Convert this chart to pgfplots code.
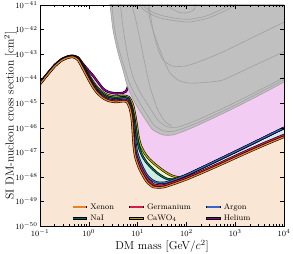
\documentclass[border=0pt]{standalone}
\usepackage{pgfplots}
\usepackage{pgfplotstable}
\pgfplotsset{compat=1.18}

\definecolor{xecol}{RGB}{232,130,40}
\definecolor{gecol}{RGB}{214,28,74}
\definecolor{arcol}{RGB}{58,100,200}
\definecolor{naicol}{RGB}{0,110,96}
\definecolor{cacol}{RGB}{180,170,0}
\definecolor{hecol}{RGB}{150,0,150}
\definecolor{xefill}{RGB}{250,230,212}
\definecolor{gefill}{RGB}{246,214,218}
\definecolor{arfill}{RGB}{214,234,246}
\definecolor{naifill}{RGB}{206,236,230}
\definecolor{cafill}{RGB}{248,245,205}
\definecolor{hefill}{RGB}{242,204,242}
\definecolor{greyfill}{RGB}{192,192,192}
\definecolor{greyline}{RGB}{160,160,160}

% log10(mass/GeV)  log10(sigma/cm^2)
\pgfplotstableread{
x y
-1.00 -44.22
-0.85 -43.85
-0.70 -43.50
-0.55 -43.25
-0.42 -43.14
-0.32 -43.12
-0.22 -43.24
-0.12 -43.60
0.00 -44.05
0.09 -44.36
0.19 -44.62
0.30 -44.80
0.40 -44.90
0.55 -44.95
0.70 -44.92
0.78 -44.95
0.84 -45.20
0.88 -45.60
0.90 -46.10
0.92 -46.70
0.95 -47.15
1.00 -47.48
1.05 -47.72
1.12 -47.98
1.19 -48.20
1.32 -48.41
1.52 -48.42
1.72 -48.30
2.00 -48.10
2.30 -47.85
2.70 -47.50
3.20 -47.05
3.60 -46.70
4.00 -46.37
}\tXe

\pgfplotstableread{
x y
-1.00 -44.21
-0.85 -43.84
-0.70 -43.49
-0.55 -43.24
-0.42 -43.13
-0.32 -43.11
-0.22 -43.22
-0.12 -43.56
0.00 -44.00
0.09 -44.31
0.19 -44.57
0.30 -44.75
0.40 -44.85
0.55 -44.90
0.70 -44.87
0.79 -44.90
0.855 -45.20
0.895 -45.60
0.915 -46.10
0.935 -46.70
0.965 -47.10
1.02 -47.42
1.08 -47.66
1.15 -47.92
1.22 -48.12
1.34 -48.32
1.52 -48.35
1.72 -48.23
2.00 -48.03
2.30 -47.78
2.70 -47.43
3.20 -46.97
3.60 -46.62
4.00 -46.29
}\tGe

\pgfplotstableread{
x y
-1.00 -44.20
-0.85 -43.83
-0.70 -43.48
-0.55 -43.23
-0.42 -43.12
-0.32 -43.10
-0.22 -43.20
-0.12 -43.52
0.00 -43.95
0.09 -44.26
0.19 -44.52
0.30 -44.70
0.40 -44.80
0.55 -44.85
0.70 -44.82
0.80 -44.85
0.87 -45.20
0.91 -45.60
0.935 -46.10
0.955 -46.60
0.985 -46.98
1.04 -47.32
1.10 -47.60
1.18 -47.90
1.26 -48.08
1.38 -48.22
1.55 -48.24
1.75 -48.12
2.00 -47.92
2.30 -47.64
2.70 -47.26
3.20 -46.78
3.60 -46.39
4.00 -46.00
}\tAr

\pgfplotstableread{
x y
-1.00 -44.19
-0.85 -43.82
-0.70 -43.47
-0.55 -43.22
-0.42 -43.11
-0.32 -43.09
-0.22 -43.18
-0.12 -43.48
0.00 -43.90
0.09 -44.20
0.19 -44.46
0.30 -44.64
0.40 -44.74
0.55 -44.79
0.70 -44.76
0.81 -44.80
0.88 -45.15
0.93 -45.60
0.96 -46.00
0.99 -46.40
1.03 -46.80
1.10 -47.15
1.20 -47.45
1.40 -47.84
1.60 -48.08
1.80 -48.10
2.00 -47.93
2.30 -47.65
2.70 -47.27
3.20 -46.79
3.60 -46.40
4.00 -46.01
}\tNaI

\pgfplotstableread{
x y
-1.00 -44.18
-0.85 -43.81
-0.70 -43.46
-0.55 -43.21
-0.42 -43.10
-0.32 -43.08
-0.22 -43.16
-0.12 -43.44
0.00 -43.85
0.09 -44.14
0.19 -44.40
0.30 -44.58
0.40 -44.68
0.55 -44.73
0.70 -44.70
0.82 -44.75
0.90 -45.05
0.95 -45.50
0.99 -46.00
1.02 -46.40
1.07 -46.75
1.15 -47.05
1.25 -47.30
1.40 -47.56
1.55 -47.78
1.70 -47.95
1.85 -48.02
2.00 -47.93
2.30 -47.65
2.70 -47.27
3.20 -46.79
3.60 -46.40
4.00 -46.01
}\tCa

\pgfplotstableread{
x y
-1.00 -44.16
-0.85 -43.80
-0.70 -43.45
-0.55 -43.20
-0.42 -43.09
-0.32 -43.07
-0.22 -43.14
-0.12 -43.40
0.00 -43.68
0.09 -43.88
0.19 -44.15
0.30 -44.42
0.40 -44.54
0.55 -44.60
0.70 -44.58
0.76 -44.52
0.80 -44.35
0.85 -44.05
0.92 -43.70
1.00 -43.50
1.50 -44.00
2.00 -44.20
3.00 -43.50
4.00 -42.80
}\tHe

% exclusion envelope and individual limits
\pgfplotstableread{
x y
0.400 -40.80
0.434 -41.00
0.496 -42.02
0.598 -42.95
0.701 -43.65
0.783 -44.26
0.885 -44.75
1.008 -45.19
1.193 -45.76
1.316 -46.09
1.520 -46.29
1.725 -46.29
2.010 -46.09
2.340 -45.80
2.893 -45.28
3.508 -44.66
4.000 -44.14
}\tB

\pgfplotstableread{
x y
0.46 -40.80
0.53 -42.00
0.63 -42.90
0.73 -43.55
0.82 -44.10
0.92 -44.55
1.04 -44.98
1.22 -45.55
1.34 -45.90
1.52 -46.12
1.725 -46.15
2.01 -45.97
2.34 -45.70
2.893 -45.18
3.508 -44.56
4.00 -44.04
}\tBb

\pgfplotstableread{
x y
0.639 -40.80
0.700 -41.90
0.803 -43.12
0.906 -43.93
1.050 -44.55
1.254 -45.20
1.420 -45.70
1.600 -45.95
1.800 -45.98
2.010 -45.85
2.340 -45.58
2.893 -45.07
3.508 -44.46
4.000 -43.95
}\tBc

\pgfplotstableread{
x y
0.85 -40.80
0.95 -41.50
1.05 -42.42
1.15 -43.40
1.25 -44.30
1.40 -45.20
1.55 -45.72
1.70 -45.93
}\tR

\pgfplotstableread{
x y
1.22 -40.80
1.316 -42.02
1.42 -42.80
1.52 -43.24
1.70 -43.48
1.90 -43.50
2.074 -43.44
2.40 -43.20
2.75 -42.91
3.35 -42.33
4.00 -41.70
}\tP

\pgfplotstableread{
x y
1.20 -40.80
1.254 -41.61
1.36 -42.30
1.459 -42.83
1.56 -43.35
1.664 -43.77
1.85 -44.08
2.074 -44.18
2.40 -44.15
2.75 -44.05
3.35 -43.50
4.00 -42.90
}\tQ

\pgfplotstableread{
x y
1.00 -40.80
1.10 -41.15
1.25 -41.35
1.46 -41.53
1.80 -41.65
2.07 -41.69
2.42 -41.55
2.83 -41.20
3.10 -40.85
}\tT

\pgfplotstableread{
x y
1.05 -40.80
1.15 -41.10
1.30 -41.28
1.50 -41.43
1.80 -41.55
2.07 -41.58
2.42 -41.44
2.80 -41.10
3.05 -40.80
}\tTb

\pgfplotstableread{
x y
1.55 -40.85
1.68 -41.12
1.85 -41.30
2.02 -41.32
2.16 -41.18
2.18 -40.98
2.05 -40.84
}\tL

\begin{document}
\begin{tikzpicture}
\begin{axis}[
  scale only axis,
  width=244pt, height=221pt,
  xmin=-1, xmax=4, ymin=-50, ymax=-41,
  xtick={-1,0,1,2,3,4},
  xticklabels={$10^{-1}$,$10^{0}$,$10^{1}$,$10^{2}$,$10^{3}$,$10^{4}$},
  ytick={-50,-49,-48,-47,-46,-45,-44,-43,-42,-41},
  yticklabels={$10^{-50}$,$10^{-49}$,$10^{-48}$,$10^{-47}$,$10^{-46}$,$10^{-45}$,$10^{-44}$,$10^{-43}$,$10^{-42}$,$10^{-41}$},
  minor xtick={-0.69897,-0.52288,-0.39794,-0.30103,-0.22185,-0.15490,-0.09691,-0.04576,
    0.30103,0.47712,0.60206,0.69897,0.77815,0.84510,0.90309,0.95424,
    1.30103,1.47712,1.60206,1.69897,1.77815,1.84510,1.90309,1.95424,
    2.30103,2.47712,2.60206,2.69897,2.77815,2.84510,2.90309,2.95424,
    3.30103,3.47712,3.60206,3.69897,3.77815,3.84510,3.90309,3.95424},
  tick align=inside,
  major tick length=4pt, minor tick length=2.2pt,
  tick style={black, line width=0.5pt},
  axis line style={line width=0.8pt},
  ticklabel style={font=\fontsize{8.5}{10}\selectfont},
  yticklabel style={xshift=1pt},
  label style={font=\fontsize{11.5}{13}\selectfont},
  xlabel={DM mass [GeV/$c^2$]},
  ylabel={SI DM-nucleon cross section [cm$^2$]},
  xlabel style={yshift=3pt},
  ylabel style={yshift=-8pt},
  axis on top,
  legend columns=3,
  legend image code/.code={%
    \draw[#1, draw=black, line width=2.6pt](0cm,0cm)--(0.5cm,0cm);
    \draw[#1, line width=1.4pt](0.02cm,0cm)--(0.48cm,0cm);},
  legend style={draw=none, fill=none, at={(0.5,0.0)}, anchor=south,
    font=\fontsize{8}{9}\selectfont, /tikz/every even column/.append style={column sep=12pt},
    row sep=0pt},
  legend cell align=left,
]
% legend samples
\addlegendimage{draw=xecol}
\addlegendentry{Xenon}
\addlegendimage{draw=gecol}
\addlegendentry{Germanium}
\addlegendimage{draw=arcol}
\addlegendentry{Argon}
\addlegendimage{draw=naicol}
\addlegendentry{NaI}
\addlegendimage{draw=cacol}
\addlegendentry{CaWO$_4$}
\addlegendimage{draw=hecol}
\addlegendentry{Helium}

% fills
\addplot[forget plot, draw=none, fill=hefill, smooth, tension=0.4] table {\tHe} -- (4,-50) -- (-1,-50) -- cycle;
\addplot[forget plot, draw=none, fill=cafill, smooth, tension=0.4] table {\tCa} -- (4,-50) -- (-1,-50) -- cycle;
\addplot[forget plot, draw=none, fill=naifill, smooth, tension=0.4] table {\tNaI} -- (4,-50) -- (-1,-50) -- cycle;
\addplot[forget plot, draw=none, fill=arfill, smooth, tension=0.4] table {\tAr} -- (4,-50) -- (-1,-50) -- cycle;
\addplot[forget plot, draw=none, fill=gefill, smooth, tension=0.4] table {\tGe} -- (4,-50) -- (-1,-50) -- cycle;
\addplot[forget plot, draw=none, fill=xefill, smooth, tension=0.4] table {\tXe} -- (4,-50) -- (-1,-50) -- cycle;

% lines
\addplot[forget plot, black, line width=2.3pt, smooth, tension=0.4] table {\tHe};
\addplot[forget plot, hecol, line width=1.2pt, smooth, tension=0.4] table {\tHe};
\addplot[forget plot, black, line width=2.3pt, smooth, tension=0.4] table {\tCa};
\addplot[forget plot, cacol, line width=1.2pt, smooth, tension=0.4] table {\tCa};
\addplot[forget plot, black, line width=2.3pt, smooth, tension=0.4] table {\tNaI};
\addplot[forget plot, naicol, line width=1.2pt, smooth, tension=0.4] table {\tNaI};
\addplot[forget plot, black, line width=2.3pt, smooth, tension=0.4] table {\tAr};
\addplot[forget plot, arcol, line width=1.2pt, smooth, tension=0.4] table {\tAr};
\addplot[forget plot, black, line width=2.3pt, smooth, tension=0.4] table {\tGe};
\addplot[forget plot, gecol, line width=1.2pt, smooth, tension=0.4] table {\tGe};
\addplot[forget plot, black, line width=2.3pt, smooth, tension=0.4] table {\tXe};
\addplot[forget plot, xecol, line width=1.2pt, smooth, tension=0.4] table {\tXe};

% exclusion region
\addplot[forget plot, draw=none, fill=greyfill, smooth, tension=0.4] table {\tB} -- (4,-40.8) -- cycle;
\addplot[forget plot, greyline, line width=0.6pt, smooth, tension=0.4] table {\tB};
\addplot[forget plot, greyline, line width=0.6pt, smooth, tension=0.4] table {\tBb};
\addplot[forget plot, greyline, line width=0.6pt, smooth, tension=0.4] table {\tBc};
\addplot[forget plot, greyline, line width=0.6pt, smooth, tension=0.4] table {\tR};
\addplot[forget plot, greyline, line width=0.6pt, smooth, tension=0.4] table {\tP};
\addplot[forget plot, greyline, line width=0.6pt, smooth, tension=0.4] table {\tQ};
\addplot[forget plot, greyline, line width=0.6pt, smooth, tension=0.4] table {\tT};
\addplot[forget plot, greyline, line width=0.6pt, smooth, tension=0.4] table {\tTb};
\addplot[forget plot, greyline, line width=0.6pt, smooth, tension=0.4] table {\tL};
\end{axis}
\pgfresetboundingbox
\path ([shift={(-40pt,-28pt)}]current axis.south west) rectangle ([shift={(9pt,5pt)}]current axis.north east);
\end{tikzpicture}
\end{document}
